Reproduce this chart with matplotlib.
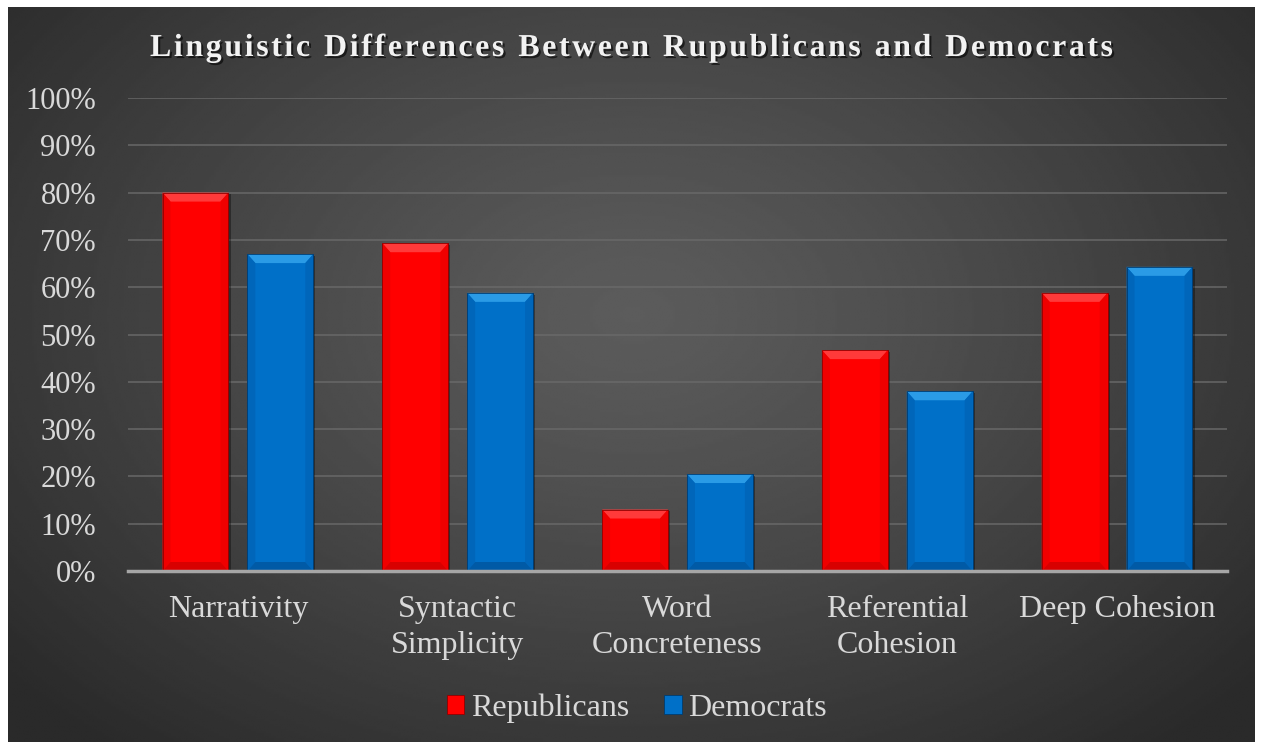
import numpy as np
import matplotlib
matplotlib.use("Agg")
from matplotlib import pyplot as plt
from matplotlib.patches import Polygon, Rectangle
import matplotlib.patheffects as pe

categories = ["Narrativity", "Syntactic\nSimplicity", "Word\nConcreteness",
              "Referential\nCohesion", "Deep Cohesion"]
republicans = [0.80, 0.693, 0.13, 0.467, 0.588]
democrats = [0.67, 0.588, 0.205, 0.38, 0.643]
series_names = ["Republicans", "Democrats"]
title = "Linguistic Differences Between Rupublicans and Democrats"

W, H = 1261, 742
fig = plt.figure(figsize=(W / 100, H / 100), dpi=100)
fig.patch.set_facecolor("white")

# dark radial background panel
bg = fig.add_axes([8 / W, 0, (1255 - 8) / W, (H - 7) / H])
yy, xx = np.mgrid[0:300, 0:500]
cx, cy = 250, 125
r = np.sqrt(((xx - cx) / 330.0) ** 2 + ((yy - cy) / 230.0) ** 2)
r = np.clip(r, 0, 1)
shade = 0x5c / 255 - (0x5c - 0x2a) / 255 * r ** 1.2
bg.imshow(shade, cmap="gray", vmin=0, vmax=1, aspect="auto",
          extent=[0, 1, 0, 1], interpolation="bilinear")
bg.set_axis_off()

ax = fig.add_axes([128 / W, (H - 571) / H, 1099 / W, 473 / H])
ax.set_facecolor("none")
ax.set_xlim(-0.5, 4.5)
ax.set_ylim(0, 1.0)

serif = "Liberation Serif"
txt_col = "#d9d9d9"

x = np.arange(len(categories))
bw = 0.30
off = 0.193

ax.set_yticks(np.arange(0, 1.01, 0.1))
ax.set_yticklabels([f"{int(round(v * 100))}%" for v in np.arange(0, 1.01, 0.1)],
                   fontfamily=serif, fontsize=22, color=txt_col)
ax.yaxis.grid(True, color="#6a6a6a", linewidth=1.3, alpha=0.8)
ax.set_axisbelow(True)
ax.tick_params(axis="y", length=0, pad=23)
ax.tick_params(axis="x", length=0, pad=17)
ax.set_xticks(x)
ax.set_xticklabels(categories, fontfamily=serif, fontsize=23, color=txt_col,
                   linespacing=1.33, va="top")
for s in ["top", "right", "left"]:
    ax.spines[s].set_visible(False)
ax.spines["bottom"].set_color("#a6a6a6")
ax.spines["bottom"].set_linewidth(2.5)
ax.spines["bottom"].set_zorder(5)

styles = [
    dict(face="#ff0000", top="#ff3a3a", side="#ef0000", bot="#d80000", edge="#900000"),
    dict(face="#0070c8", top="#2a9be6", side="#0066ba", bot="#005aa6", edge="#003c70"),
]

# bevel size in data units (about 8 px)
bx = bw * 8 / 66
by = 9 / 473

for vals, shift, st, name in [(republicans, -off, styles[0], series_names[0]),
                              (democrats, off, styles[1], series_names[1])]:
    bars = ax.bar(x + shift, vals, bw, color=st["face"], edgecolor=st["edge"],
                  linewidth=0.6, zorder=3, label=name)
    for b in bars:
        x0, w, h = b.get_x(), b.get_width(), b.get_height()
        x1 = x0 + w
        # shadow
        ax.add_patch(Rectangle((x0 + 0.01, -0.004), w, h, color="black",
                               alpha=0.35, zorder=2, linewidth=0))
        ax.add_patch(Polygon([[x0, h], [x1, h], [x1 - bx, h - by], [x0 + bx, h - by]],
                             closed=True, color=st["top"], zorder=4, linewidth=0))
        ax.add_patch(Polygon([[x0, 0], [x0 + bx, by], [x0 + bx, h - by], [x0, h]],
                             closed=True, color=st["side"], zorder=4, linewidth=0))
        ax.add_patch(Polygon([[x1, 0], [x1 - bx, by], [x1 - bx, h - by], [x1, h]],
                             closed=True, color=st["side"], zorder=4, linewidth=0))
        ax.add_patch(Polygon([[x0, 0], [x1, 0], [x1 - bx, by], [x0 + bx, by]],
                             closed=True, color=st["bot"], zorder=4, linewidth=0))
        ax.add_patch(Rectangle((x0, 0), w, h, fill=False, edgecolor=st["edge"],
                               linewidth=0.6, zorder=4))

leg = ax.legend(loc="center", bbox_to_anchor=(0.463, -0.29), ncol=2, frameon=False,
                prop={"family": serif, "size": 23}, handlelength=0.56,
                handleheight=0.56, handletextpad=0.2, columnspacing=1.1)
for t in leg.get_texts():
    t.set_color(txt_col)

# title with letter spacing, drawn character by character
fig.canvas.draw()
renderer = fig.canvas.get_renderer()
fs = 23
widths = []
for ch in title:
    t = fig.text(0, 0, ch if ch != " " else "n", fontfamily=serif, fontsize=fs,
                 fontweight="bold")
    wpx = t.get_window_extent(renderer).width
    if ch == " ":
        wpx *= 0.5
    widths.append(wpx)
    t.remove()
target = 963
spacing = (target - sum(widths)) / (len(title) - 1)
xpos = 150
for ch, wpx in zip(title, widths):
    if ch != " ":
        fig.text(xpos / W, 1 - 56 / H, ch, fontfamily=serif, fontsize=fs,
                 fontweight="bold", color="#f2f2f2", va="baseline", ha="left",
                 path_effects=[pe.withSimplePatchShadow(offset=(1.5, -1.5),
                                                       shadow_rgbFace="black",
                                                       alpha=0.6)])
    xpos += wpx + spacing

fig.savefig("out.png", dpi=100, facecolor=fig.get_facecolor())
